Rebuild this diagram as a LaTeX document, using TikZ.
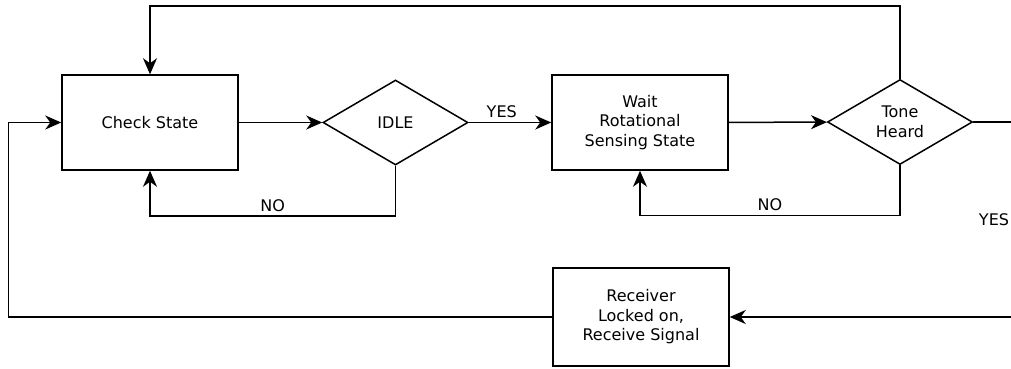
\documentclass[tikz,border=0pt]{standalone}
\usepackage{fontspec}
\setmainfont{DejaVu Sans}
\usepackage{tikz}
\usetikzlibrary{arrows.meta}
\usetikzlibrary{shapes.geometric}

\begin{document}
\begin{tikzpicture}[x=1pt, y=-1pt,
    font=\fontsize{16}{19.5}\selectfont,
    box/.style={shape=rectangle, draw=black, line width=1.5pt, minimum width=176pt, minimum height=95pt, align=center},
    decision/.style={shape=diamond, draw=black, line width=1.5pt, inner sep=0pt, minimum width=145pt, minimum height=85pt, align=center},
    flow/.style={draw=black, line width=1.5pt, -{Stealth[length=16pt, width=14pt, inset=5pt]}}]

                \useasboundingbox (0,0) rectangle (1011,368);

                \node[box] (A) at (150,122.5) {Check State};
                \node[decision] (B) at (395.5,122.5) {IDLE};
                \node[box] (C) at (640,122.5) {Wait\\Rotational\\Sensing State};
                \node[decision] (D) at (900,122) {Tone\\Heard};
                \node[box, minimum height=98pt] (E) at (641,317) {Receiver\\Locked on,\\Receive Signal};
                \node (F) at (994,220) {YES};
                \coordinate (G) at (1011,122);
                \coordinate (H) at (1011,317);

                \draw[flow] (A) -- (B);
                \draw[flow] (B) -- (C) node[pos=0.4, above=1pt] {YES};
                \draw[flow] (B.south) -- ++(0,50) -| (A.south) node[pos=0.25, above] {NO};
                \draw[flow] (C) -- (D);
                \draw[flow] (D.south) -- ++(0,50) -| (C.south) node[pos=0.25, above] {NO};
                \draw[flow] (D.north) -- ++(0,-73) -| (A.north);
                \draw[line width=1.5pt] (D.east) -- (G);
                \draw[flow] (H) -- (E.east);
                \draw[flow] (E.west) -- ++(-544,0) |- (A.west);

            \end{tikzpicture}
\end{document}
